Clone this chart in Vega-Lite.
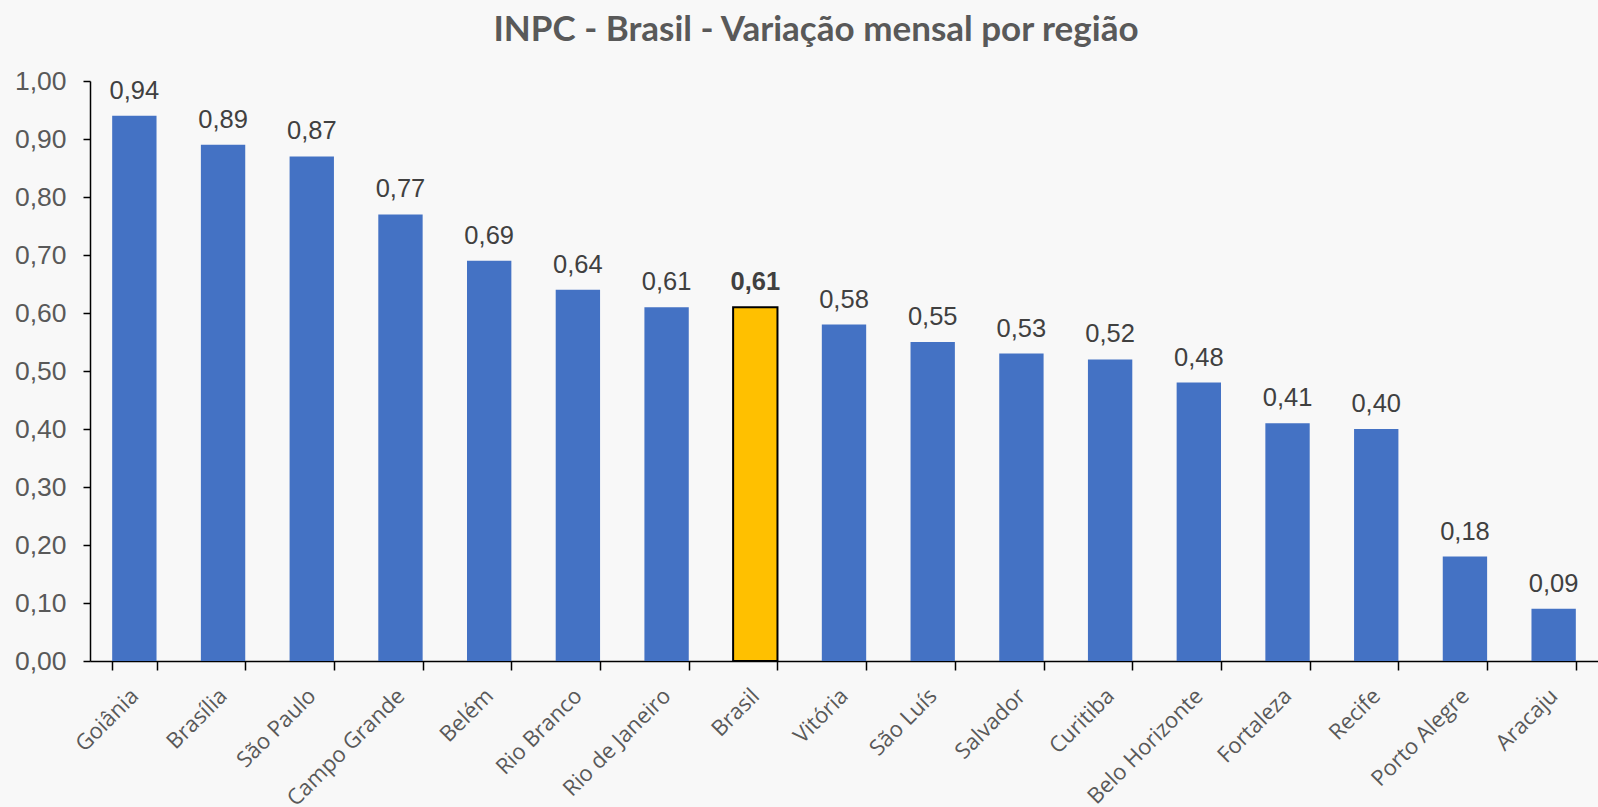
{
  "$schema": "https://vega.github.io/schema/vega-lite/v6.json",
  "autosize": "none",
  "width": 1508,
  "height": 580,
  "padding": {"left": 90, "top": 81, "right": 0, "bottom": 146},
  "background": "#f8f8f8",
  "config": {
    "locale": {"number": {"decimal": ",", "thousands": ".", "grouping": [3], "currency": ["R$", ""]}},
    "view": {"stroke": null}
  },
  "title": {
    "text": "INPC - Brasil - Variação mensal por região",
    "font": "Lato",
    "fontSize": 35,
    "fontWeight": "bold",
    "color": "#595959",
    "anchor": "middle",
    "frame": "group",
    "baseline": "alphabetic",
    "dx": -28,
    "dy": 38,
    "offset": 30
  },
  "data": {
    "values": [
      {"regiao": "Goiânia", "valor": 0.94, "destaque": "n"},
      {"regiao": "Brasília", "valor": 0.89, "destaque": "n"},
      {"regiao": "São Paulo", "valor": 0.87, "destaque": "n"},
      {"regiao": "Campo Grande", "valor": 0.77, "destaque": "n"},
      {"regiao": "Belém", "valor": 0.69, "destaque": "n"},
      {"regiao": "Rio Branco", "valor": 0.64, "destaque": "n"},
      {"regiao": "Rio de Janeiro", "valor": 0.61, "destaque": "n"},
      {"regiao": "Brasil", "valor": 0.61, "destaque": "s"},
      {"regiao": "Vitória", "valor": 0.58, "destaque": "n"},
      {"regiao": "São Luís", "valor": 0.55, "destaque": "n"},
      {"regiao": "Salvador", "valor": 0.53, "destaque": "n"},
      {"regiao": "Curitiba", "valor": 0.52, "destaque": "n"},
      {"regiao": "Belo Horizonte", "valor": 0.48, "destaque": "n"},
      {"regiao": "Fortaleza", "valor": 0.41, "destaque": "n"},
      {"regiao": "Recife", "valor": 0.40, "destaque": "n"},
      {"regiao": "Porto Alegre", "valor": 0.18, "destaque": "n"},
      {"regiao": "Aracaju", "valor": 0.09, "destaque": "n"}
    ]
  },
  "encoding": {
    "x": {
      "field": "regiao",
      "type": "nominal",
      "sort": null,
      "scale": {"paddingInner": 0.5, "paddingOuter": 0.25},
      "axis": {
        "title": null,
        "labelAngle": -45,
        "labelAlign": "right",
        "labelBaseline": "middle",
        "labelFont": "Open Sans",
        "labelFontSize": 22,
        "labelColor": "#595959",
        "labelPadding": 22,
        "labelDx": 7,
        "tickBand": "extent",
        "tickColor": "#000000",
        "tickSize": 9,
        "tickWidth": 1.5,
        "domainColor": "#000000",
        "domainWidth": 1.5,
        "grid": false
      }
    },
    "y": {
      "field": "valor",
      "type": "quantitative",
      "scale": {"domain": [0, 1], "nice": false},
      "axis": {
        "title": null,
        "values": [0, 0.1, 0.2, 0.3, 0.4, 0.5, 0.6, 0.7, 0.8, 0.9, 1.0],
        "format": ".2f",
        "labelFont": "Liberation Sans",
        "labelFontSize": 26.5,
        "labelColor": "#595959",
        "labelPadding": 17,
        "tickColor": "#000000",
        "tickSize": 7,
        "tickWidth": 1.5,
        "domainColor": "#000000",
        "domainWidth": 1.5,
        "grid": false
      }
    }
  },
  "layer": [
    {
      "mark": {"type": "bar"},
      "encoding": {
        "color": {
          "field": "destaque",
          "type": "nominal",
          "scale": {"domain": ["n", "s"], "range": ["#4472C4", "#FFC000"]},
          "legend": null
        },
        "stroke": {
          "field": "destaque",
          "type": "nominal",
          "scale": {"domain": ["n", "s"], "range": ["transparent", "#000000"]},
          "legend": null
        },
        "strokeWidth": {"value": 2}
      }
    },
    {
      "transform": [{"filter": "datum.destaque === 'n'"}],
      "mark": {"type": "text", "baseline": "alphabetic", "dy": -17, "font": "Liberation Sans", "fontSize": 25.5, "color": "#404040"},
      "encoding": {
        "text": {"field": "valor", "type": "quantitative", "format": ".2f"}
      }
    },
    {
      "transform": [{"filter": "datum.destaque === 's'"}],
      "mark": {"type": "text", "baseline": "alphabetic", "dy": -17, "font": "Liberation Sans", "fontSize": 25.5, "fontWeight": "bold", "color": "#404040"},
      "encoding": {
        "text": {"field": "valor", "type": "quantitative", "format": ".2f"}
      }
    }
  ]
}
